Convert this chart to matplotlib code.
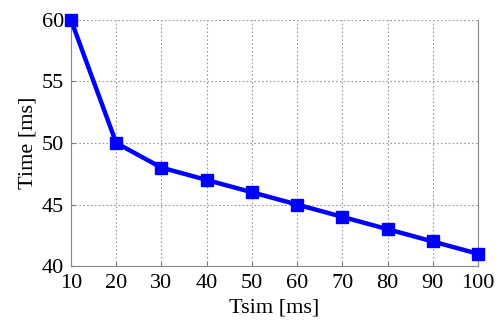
import matplotlib
matplotlib.use("Agg")
import matplotlib.pyplot as plt

# data
tsim = [10, 20, 30, 40, 50, 60, 70, 80, 90, 100]
time_ms = [60, 50, 48, 47, 46, 45, 44, 43, 42, 41]
x_ticks = [10, 20, 30, 40, 50, 60, 70, 80, 90, 100]
y_ticks = [40, 45, 50, 55, 60]

plt.rcParams['font.family'] = ['Liberation Serif', 'DejaVu Serif']
plt.rcParams['font.size'] = 16

fig = plt.figure(figsize=(5.0, 3.21), dpi=100)
ax = fig.add_axes([0.142, 0.171, 0.814, 0.767])

ax.plot(tsim, time_ms, color='#0000ff', linewidth=3.2, marker='s',
        markersize=8, clip_on=False, zorder=3)

ax.set_xlim(10, 100)
ax.set_ylim(40, 60)
ax.set_xticks(x_ticks)
ax.set_yticks(y_ticks)
ax.tick_params(direction='in', length=3, width=0.8, color='#777777', pad=6)
ax.tick_params(axis='y', pad=5)
ax.grid(True, linestyle=(0, (1.5, 2)), color='#999999', linewidth=0.8)

for side in ['left', 'bottom', 'right']:
    ax.spines[side].set_color('#888888')
    ax.spines[side].set_linewidth(0.8)
ax.spines['top'].set_visible(False)

ax.set_xlabel('Tsim [ms]', labelpad=4)
ax.set_ylabel('Time [ms]', labelpad=3)

fig.savefig('out.png', dpi=100)
